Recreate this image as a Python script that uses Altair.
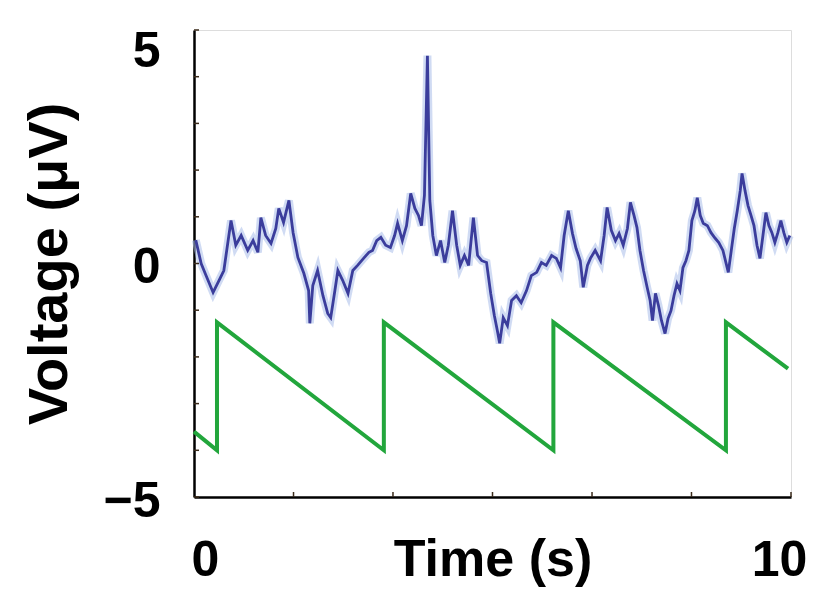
import altair as alt
import pandas as pd

blue_t = [0.03, 0.12, 0.20, 0.32, 0.42, 0.50, 0.62, 0.70, 0.79, 0.90, 0.99, 1.07, 1.12, 1.20, 1.29,
          1.37, 1.42, 1.50, 1.59, 1.66, 1.74, 1.84, 1.92, 1.94, 1.99, 2.07, 2.16, 2.24, 2.29, 2.36,
          2.41, 2.49, 2.58, 2.66, 2.74, 2.84, 2.93, 2.99, 3.06, 3.13, 3.21, 3.29, 3.36, 3.41, 3.49,
          3.56, 3.63, 3.70, 3.76, 3.81, 3.86, 3.91, 3.95, 4.00, 4.06, 4.13, 4.20, 4.26, 4.33, 4.40,
          4.46, 4.53, 4.60, 4.68, 4.75, 4.82, 4.90, 4.97, 5.03, 5.08, 5.12, 5.18, 5.25, 5.32, 5.40,
          5.48, 5.57, 5.65, 5.74, 5.82, 5.90, 5.99, 6.07, 6.14, 6.20, 6.27, 6.34, 6.40, 6.47, 6.52,
          6.59, 6.64, 6.72, 6.81, 6.87, 6.92, 6.99, 7.06, 7.12, 7.19, 7.26, 7.31, 7.37, 7.42, 7.47,
          7.53, 7.59, 7.64, 7.68, 7.73, 7.78, 7.83, 7.89, 7.94, 7.99, 8.04, 8.09, 8.14, 8.19, 8.24,
          8.29, 8.34, 8.39, 8.43, 8.48, 8.53, 8.60, 8.66, 8.73, 8.79, 8.86, 8.91, 8.95, 9.00, 9.05,
          9.10, 9.15, 9.18, 9.23, 9.28, 9.33, 9.38, 9.43, 9.48, 9.53, 9.58, 9.63, 9.68, 9.73, 9.78,
          9.83, 9.88, 9.93, 9.98]
blue_v = [0.50, 0.00, -0.25, -0.62, -0.36, -0.15, 0.92, 0.39, 0.60, 0.28, 0.49, 0.24, 0.98, 0.60, 0.43,
          0.75, 1.18, 0.88, 1.35, 0.66, 0.13, -0.21, -0.58, -1.28, -0.47, -0.15, -0.69, -1.07, -1.16, -0.58,
          -0.15, -0.36, -0.64, -0.15, -0.04, 0.11, 0.24, 0.28, 0.49, 0.56, 0.39, 0.34, 0.60, 0.86, 0.49,
          0.81, 1.50, 1.18, 1.03, 0.81, 1.46, 4.45, 1.35, 0.60, 0.17, 0.49, 0.02, 0.39, 1.13, 0.39,
          -0.04, 0.17, -0.04, 0.98, 0.17, 0.06, 0.02, -0.64, -1.11, -1.43, -1.71, -1.16, -1.33, -0.79, -0.69,
          -0.84, -0.58, -0.26, -0.19, 0.02, -0.04, 0.17, 0.11, -0.09, 0.60, 1.13, 0.64, 0.32, 0.06, -0.51,
          -0.04, 0.11, 0.28, 0.06, 0.60, 1.20, 0.71, 0.49, 0.64, 0.39, 0.75, 1.31, 1.03, 0.77, 0.28,
          -0.15, -0.51, -0.79, -1.22, -0.64, -0.90, -1.22, -1.50, -1.18, -1.01, -0.69, -0.43, -0.58, -0.09, 0.06,
          0.28, 0.92, 1.13, 1.41, 1.03, 0.86, 0.81, 0.66, 0.54, 0.45, 0.28, 0.02, -0.19, 0.28, 0.75,
          1.13, 1.56, 1.93, 1.56, 1.24, 1.03, 0.81, 0.39, 0.11, 0.60, 1.09, 0.81, 0.66, 0.45, 0.66,
          0.92, 0.66, 0.45, 0.60]

# Green sawtooth stimulus
saw_t = [0.0, 0.385, 0.385, 3.18, 3.18, 6.02, 6.02, 8.91, 8.91, 9.95]
saw_v = [-3.6, -4.0, -1.26, -4.0, -1.26, -4.0, -1.26, -4.0, -1.26, -2.25]

# Axis ticks and labels
y_tick_vals = [-5, -4, -3, -2, -1, 0, 1, 2, 3, 4, 5]
x_tick_vals = [1.667, 3.333, 5.0, 6.667, 8.333, 10.0]
x_label_vals = [0, 10]
y_label_vals = [-5, 0, 5]

blue = pd.DataFrame({"t": blue_t, "v": blue_v, "i": list(range(len(blue_t)))})
saw = pd.DataFrame({"t": saw_t, "v": saw_v, "i": list(range(len(saw_t)))})
yt = pd.DataFrame({"v": y_tick_vals})
xt = pd.DataFrame({"t": x_tick_vals})

FONT = "Liberation Sans"
W, H = 597, 467

xs = alt.Scale(domain=[0, 10], nice=False, zero=False)
ys = alt.Scale(domain=[-5, 5], nice=False, zero=False)

x_axis = alt.Axis(
    values=x_label_vals, title="Time (s)", ticks=False, tickSize=0, grid=False,
    domainColor="black", domainWidth=2.5, labelFlush=False,
    labelFont=FONT, labelFontSize=50, labelFontWeight="bold", labelColor="black",
    labelBaseline="alphabetic", labelPadding=78,
    labelOffset={"condition": {"test": "datum.value == 0", "value": 11}, "value": -12},
    titleFont=FONT, titleFontSize=52, titleFontWeight="bold", titleColor="black",
    titleBaseline="alphabetic", titleY=78,
)
y_axis = alt.Axis(
    values=y_label_vals, title="Voltage (\u03bcV)", ticks=False, tickSize=0, grid=False,
    domainColor="black", domainWidth=2.5,
    labelFont=FONT, labelFontSize=50, labelFontWeight="bold", labelColor="black",
    labelPadding=34,
    labelOffset={"condition": {"test": "datum.value == 5", "value": 21}, "value": 4},
    titleFont=FONT, titleFontSize=56, titleFontWeight="bold", titleColor="black",
    titlePadding=24,
)

X = alt.X("t:Q", scale=xs, axis=x_axis)
Y = alt.Y("v:Q", scale=ys, axis=y_axis)

blue_halo = alt.Chart(blue).mark_line(color="#a9bde9", strokeWidth=8, opacity=0.55).encode(
    x=X, y=Y, order="i:Q")
blue_line = alt.Chart(blue).mark_line(color="#3b3d9c", strokeWidth=2.8).encode(
    x=X, y=Y, order="i:Q")
saw_line = alt.Chart(saw).mark_line(color="#22a63c", strokeWidth=4).encode(
    x=X, y=Y, order="i:Q")

y_ticks = alt.Chart(yt).mark_rule(color="#3a2a1a", strokeWidth=1.5).encode(
    y=alt.Y("v:Q", scale=ys, axis=y_axis), x=alt.value(0), x2=alt.value(5))
x_ticks = alt.Chart(xt).mark_rule(color="#3a2a1a", strokeWidth=1.5).encode(
    x=alt.X("t:Q", scale=xs, axis=x_axis), y=alt.value(H), y2=alt.value(H - 5))

chart = alt.layer(blue_halo, blue_line, saw_line, y_ticks, x_ticks).properties(
    width=W, height=H,
    autosize=alt.AutoSizeParams(type="none"),
    padding={"left": 186, "top": 22, "right": 19, "bottom": 90},
).configure_view(stroke=None).configure(background="white")

chart.save("out.html", embed_options={"renderer": "svg", "actions": False})
